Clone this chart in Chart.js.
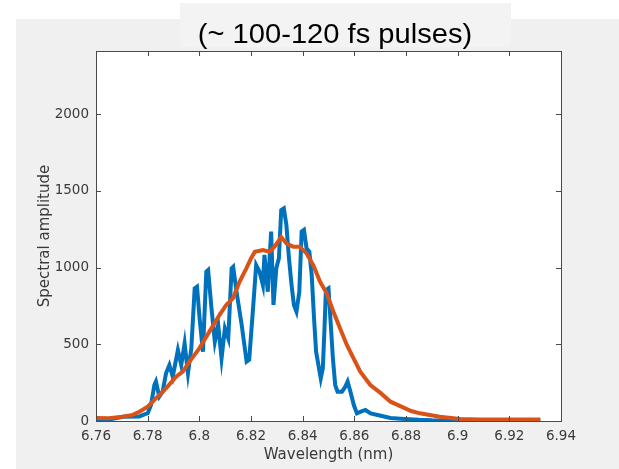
<!DOCTYPE html>
<html>
<head>
<meta charset="utf-8">
<script src="https://cdn.jsdelivr.net/npm/chart.js@4/dist/chart.umd.min.js"></script>
<style>
  html, body { margin: 0; padding: 0; background: #ffffff; width: 619px; height: 469px; overflow: hidden; }
  #fig { position: absolute; left: 16px; top: 19px; right: 0; bottom: 0; background: #f0f0f0; }
  #wrap { position: absolute; left: 0; top: 0; width: 619px; height: 469px; }
  #titlebox { position: absolute; left: 180px; top: 3px; width: 331px; height: 44px; background: #f3f3f3; }
  #titletext { position: absolute; left: 0; width: 310px; top: 31px; transform: translateY(-50%) scaleX(1.04);
    font-family: "Liberation Sans", Arial, sans-serif; font-size: 28px; color: #000; text-align: center; white-space: nowrap; }
</style>
</head>
<body>
<div id="fig"></div>
<div id="wrap"><canvas id="c" width="619" height="469"></canvas></div>
<div id="titlebox"><div id="titletext">(~ 100-120 fs pulses)</div></div>
<script>
// ---- data ----
const blueX = [6.760, 6.764, 6.7677, 6.7703, 6.7768, 6.7790, 6.7800, 6.7813, 6.7826, 6.7832, 6.7845, 6.7858, 6.7871, 6.7884, 6.7897, 6.7917, 6.7930, 6.7943, 6.7956, 6.7969, 6.7982, 6.7991, 6.8001, 6.8014, 6.8027, 6.8034, 6.8047, 6.8060, 6.8073, 6.8086, 6.8099, 6.8112, 6.8125, 6.8131, 6.8144, 6.8164, 6.8183, 6.8193, 6.8207, 6.8220, 6.8233, 6.8246, 6.8252, 6.8265, 6.8272, 6.8278, 6.8287, 6.8298, 6.8308, 6.8317, 6.8327, 6.8337, 6.8347, 6.8357, 6.8366, 6.8376, 6.8387, 6.8396, 6.8405, 6.8415, 6.8426, 6.8435, 6.8444, 6.8452, 6.8461, 6.8470, 6.8478, 6.8484, 6.8490, 6.8500, 6.8509, 6.8517, 6.8526, 6.8535, 6.8552, 6.8565, 6.8574, 6.8585, 6.8598, 6.8610, 6.8625, 6.8643, 6.8663, 6.8690, 6.8740, 6.8780, 6.8850, 6.8900, 6.9000, 6.9100, 6.9200, 6.9320];
const blueY = [8, 8, 17, 28, 30, 45, 50, 104, 235, 257, 159, 191, 311, 365, 289, 463, 365, 506, 311, 474, 865, 876, 670, 452, 974, 985, 735, 517, 626, 409, 604, 539, 996, 1006, 843, 626, 387, 400, 713, 1017, 974, 887, 1083, 843, 1061, 1235, 757, 996, 1061, 1376, 1387, 1278, 1061, 887, 757, 713, 843, 1235, 1246, 1126, 1104, 952, 670, 452, 365, 278, 343, 583, 854, 865, 626, 409, 235, 191, 191, 224, 257, 191, 104, 50, 61, 72, 50, 39, 20, 15, 8, 5, 3, 2, 2, 2];
const orangeX = [6.760, 6.7650, 6.7703, 6.7742, 6.7768, 6.7800, 6.7832, 6.7871, 6.7910, 6.7936, 6.7962, 6.8000, 6.8039, 6.8078, 6.8104, 6.8130, 6.8156, 6.8182, 6.8200, 6.8215, 6.8246, 6.8272, 6.8291, 6.8317, 6.8337, 6.8363, 6.8389, 6.8415, 6.8441, 6.8467, 6.8493, 6.8519, 6.8545, 6.8571, 6.8597, 6.8623, 6.8662, 6.8700, 6.8740, 6.8780, 6.8820, 6.8854, 6.8930, 6.9010, 6.9090, 6.9200, 6.9320];
const orangeY = [20, 18, 28, 40, 60, 93, 148, 213, 289, 322, 387, 474, 583, 691, 757, 800, 909, 996, 1060, 1104, 1115, 1104, 1137, 1200, 1158, 1137, 1137, 1093, 1017, 909, 833, 713, 604, 496, 409, 322, 235, 185, 126, 95, 65, 50, 28, 13, 10, 10, 10];
const xTicks = [6.76, 6.78, 6.80, 6.82, 6.84, 6.86, 6.88, 6.90, 6.92, 6.94];
const yTicks = [0, 500, 1000, 1500, 2000];
const xLabel = 'Wavelength (nm)';
const yLabel = 'Spectral amplitude';

const toPts = (xs, ys) => xs.map((x, i) => ({ x: x, y: ys[i] }));

const boxPlugin = {
  id: 'matlabBox',
  beforeDraw(chart) {
    const { ctx, chartArea: a } = chart;
    ctx.save();
    ctx.fillStyle = '#ffffff';
    ctx.fillRect(a.left, a.top, a.right - a.left, a.bottom - a.top);
    ctx.restore();
  },
  afterDatasetsDraw(chart) {
    const { ctx, chartArea: a, scales } = chart;
    const L = 5;
    ctx.save();
    ctx.strokeStyle = '#4a4a4a';
    ctx.lineWidth = 1;
    ctx.beginPath();
    xTicks.forEach(v => {
      const px = Math.round(scales.x.getPixelForValue(v)) + 0.5;
      ctx.moveTo(px, a.bottom); ctx.lineTo(px, a.bottom - L);
      ctx.moveTo(px, a.top); ctx.lineTo(px, a.top + L);
    });
    yTicks.forEach(v => {
      const py = Math.round(scales.y.getPixelForValue(v)) + 0.5;
      ctx.moveTo(a.left, py); ctx.lineTo(a.left + L, py);
      ctx.moveTo(a.right, py); ctx.lineTo(a.right - L, py);
    });
    ctx.stroke();
    ctx.strokeRect(Math.round(a.left) + 0.5, Math.round(a.top) + 0.5, Math.round(a.right - a.left), Math.round(a.bottom - a.top));
    ctx.restore();
  }
};

const tickFont = { family: 'DejaVu Sans', size: 13.5 };
const titleFont = { family: 'DejaVu Sans', size: 15 };

new Chart(document.getElementById('c'), {
  type: 'line',
  data: {
    datasets: [
      { data: toPts(orangeX, orangeY), borderColor: '#D95319', borderWidth: 4, pointRadius: 0, tension: 0, order: 0 },
      { data: toPts(blueX, blueY), borderColor: '#0072BD', borderWidth: 4, pointRadius: 0, tension: 0, order: 1 }
    ]
  },
  options: {
    responsive: false,
    animation: false,
    layout: { padding: { left: 0, right: 58, top: 51, bottom: 0 } },
    plugins: { legend: { display: false }, tooltip: { enabled: false } },
    scales: {
      x: {
        type: 'linear', min: 6.76, max: 6.94,
        afterBuildTicks: s => { s.ticks = xTicks.map(v => ({ value: v })); },
        afterFit: s => { s.height = 48; },
        grid: { display: false, drawTicks: false },
        border: { display: false },
        ticks: { color: '#3a3a3a', font: tickFont, padding: 7, maxRotation: 0, autoSkip: false,
          callback: v => String(+Number(v).toFixed(2)) },
        title: { display: true, text: xLabel, color: '#3a3a3a', font: titleFont, padding: { top: 0, bottom: 5 } }
      },
      y: {
        type: 'linear', min: 0, max: 2413,
        afterBuildTicks: s => { s.ticks = yTicks.map(v => ({ value: v })); },
        afterFit: s => { s.width = 96; },
        grid: { display: false, drawTicks: false },
        border: { display: false },
        ticks: { color: '#3a3a3a', font: tickFont, padding: 7, autoSkip: false,
          callback: v => String(v) },
        title: { display: true, text: yLabel, color: '#3a3a3a', font: titleFont, padding: { top: 36, bottom: 0 } }
      }
    }
  },
  plugins: [boxPlugin]
});
</script>
</body>
</html>
